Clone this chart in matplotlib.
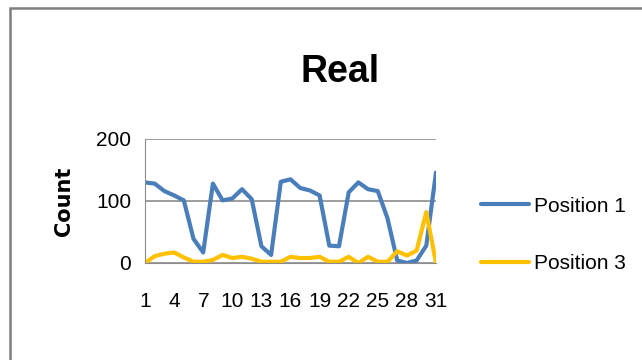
import matplotlib.pyplot as plt
from matplotlib.patches import Rectangle

plt.rcParams['font.family'] = ['Liberation Sans Narrow', 'Liberation Sans', 'DejaVu Sans']

days = list(range(1, 32))
position1 = [130, 128, 116, 109, 101, 39, 17, 128, 101, 104, 119, 103, 27, 13, 131, 135,
             121, 117, 109, 28, 27, 114, 130, 119, 116, 72, 4, 0, 4, 28, 146]
position3 = [0, 11, 15, 17, 9, 2, 2, 5, 13, 8, 10, 7, 2, 2, 2, 10,
             8, 8, 10, 2, 2, 10, 0, 10, 2, 2, 19, 12, 20, 82, 0]
xtick_labels = [str(d) for d in range(1, 32, 3)]

fig = plt.figure(figsize=(6.42, 3.6), dpi=100)
# chart border
fig.patches.append(Rectangle((10/642, -0.05), 1.1, 1 - 7.5/360 + 0.05, transform=fig.transFigure,
                             fill=False, edgecolor='#7f7f7f', linewidth=1.8))

ax = fig.add_axes([145/642, 1 - 263/360, 291/642, 124/360])
ax.plot(days, position1, color='#4A7EBB', linewidth=3, label='Position 1', solid_capstyle='round')
ax.plot(days, position3, color='#FFC000', linewidth=3, label='Position 3', solid_capstyle='round')

ax.set_xlim(1, 31)
ax.set_ylim(0, 200)
ax.set_yticks([0, 100, 200])
ax.set_xticks(range(1, 32, 3))
ax.set_xticklabels(xtick_labels)
ax.tick_params(axis='both', length=0, labelsize=15, colors='black')
ax.tick_params(axis='x', pad=21)
ax.tick_params(axis='y', pad=10)
ax.grid(axis='y', color='#8c8c8c', linewidth=1.2)
ax.set_axisbelow(True)
for s in ['top', 'right']:
    ax.spines[s].set_visible(False)
ax.spines['left'].set_color('#8c8c8c')
ax.spines['bottom'].set_color('#8c8c8c')
ax.set_ylabel('Count', fontsize=15, fontweight='bold', labelpad=16, family=['DejaVu Sans'])

fig.text(0.53, 0.80, 'Real', ha='center', va='center', fontsize=27, fontweight='bold')

fig.legend(loc='center left', bbox_to_anchor=(462/642, 1 - 235/360), frameon=False,
           fontsize=15, handlelength=2.3, handletextpad=0.25, labelspacing=1.85)

fig.savefig('out.png', dpi=100)
